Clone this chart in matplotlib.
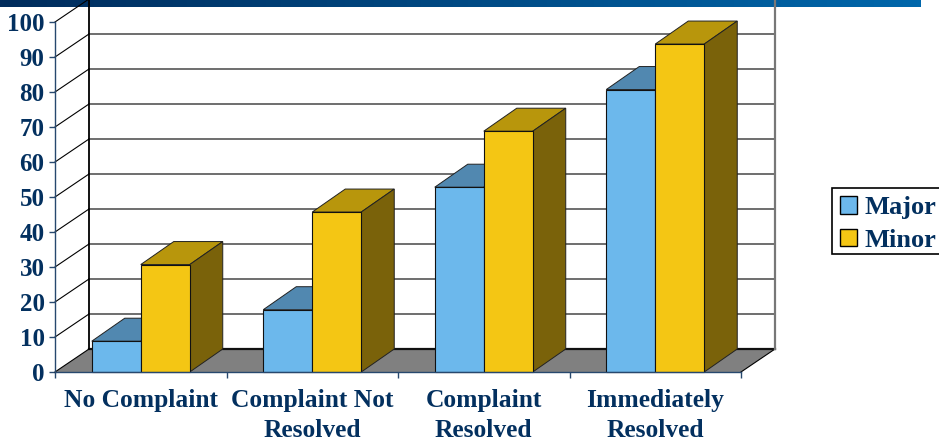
import numpy as np
import matplotlib
matplotlib.use("Agg")
import matplotlib.pyplot as plt
from matplotlib.patches import Patch, Rectangle

categories = ["No Complaint", "Complaint Not\nResolved", "Complaint\nResolved", "Immediately\nResolved"]
major = [8.8, 17.8, 52.8, 80.7]
minor = [30.7, 45.7, 68.8, 93.7]
yticks = [0, 10, 20, 30, 40, 50, 60, 70, 80, 90, 100]

navy = "#03305f"
plt.rcParams['font.family'] = ['Liberation Serif', 'DejaVu Serif']
plt.rcParams['font.weight'] = 'bold'

fig = plt.figure(figsize=(9.39, 4.42), dpi=100)

# banner across the top
banner = fig.add_axes([0, 1 - 7 / 442, 921 / 939, 7 / 442])
banner.imshow(np.linspace(0, 1, 256).reshape(1, -1), aspect='auto',
              cmap=matplotlib.colors.LinearSegmentedColormap.from_list("b", ["#012c5c", "#0067ab"]))
banner.axis('off')

ax = fig.add_axes([55 / 939, 70 / 442, 686 / 939, 350 / 442])
ax.patch.set_alpha(0)
ax.set_xlim(0, 4)
ax.set_ylim(0, 100)

# depth of the fake 3d box, in data units
dx = 34 / 171.5
dy = 23 / 3.5
bdx = 33 / 171.5
bw = 2 / 7
off = 1.5 / 7

# floor
ax.fill([0, dx, 4 + dx, 4], [0, dy, dy, 0], color="#808080", clip_on=False, zorder=1, lw=0)
ax.plot([0, dx], [0, dy], color="black", lw=0.8, clip_on=False, zorder=2)
ax.plot([4, 4 + dx], [0, dy], color="black", lw=0.8, clip_on=False, zorder=2)
ax.plot([dx, 4 + dx], [dy, dy], color="#111111", lw=1.6, clip_on=False, zorder=2)

# walls
for v in yticks[1:]:
    ax.plot([dx, 4 + dx], [v + dy, v + dy], color="#6e6e6e", lw=1.4, clip_on=False, zorder=1.5)
    ax.plot([0, dx], [v, v + dy], color="black", lw=0.8, clip_on=False, zorder=1.5)
ax.plot([dx, dx], [dy, 100 + dy], color="black", lw=1.3, clip_on=False, zorder=2)
ax.plot([4 + dx, 4 + dx], [dy, 100 + dy], color="#777777", lw=1.6, clip_on=False, zorder=2)


def bar3d(x, h, front, top, side, z):
    ax.fill([x, x + bdx, x + bw + bdx, x + bw], [h, h + dy, h + dy, h], facecolor=top,
            edgecolor="#222222", lw=0.7, clip_on=False, zorder=z)
    ax.fill([x + bw, x + bw + bdx, x + bw + bdx, x + bw], [0, dy, h + dy, h], facecolor=side,
            edgecolor="#222222", lw=0.7, clip_on=False, zorder=z)
    ax.bar(x, h, bw, align='edge', color=front, edgecolor="#111111", lw=0.8, clip_on=False, zorder=z + 0.1)


for i in range(len(categories)):
    bar3d(i + off, major[i], "#6cb8ec", "#5188b0", "#3f6a8a", 3 + i)
    bar3d(i + off + bw, minor[i], "#f4c614", "#b8960c", "#7a620a", 3.5 + i)

# axes and labels
for s in ['top', 'right']:
    ax.spines[s].set_visible(False)
for s in ['left', 'bottom']:
    ax.spines[s].set_color("#27486e")
    ax.spines[s].set_linewidth(1)
    ax.spines[s].set_zorder(20)
ax.set_yticks(yticks)
ax.set_yticklabels([str(v) for v in yticks], fontsize=18, color=navy)
ax.tick_params(axis='y', length=4.5, width=1, color="#27486e", pad=3)
ax.set_xticks(range(5))
ax.set_xticklabels([])
ax.tick_params(axis='x', which='major', length=4.5, width=1, color="#27486e")
ax.set_xticks([i + 0.5 for i in range(4)], minor=True)
ax.set_xticklabels(categories, minor=True, fontsize=18.4, color=navy, linespacing=1.42)
ax.tick_params(axis='x', which='minor', length=0, pad=12)

# legend box runs off the right side of the picture
fig.add_artist(Rectangle((831.5 / 939, 1 - 254 / 442), 120 / 939, 66 / 442, transform=fig.transFigure,
                         facecolor="white", edgecolor="black", lw=1.2, zorder=-1))
handles = [Patch(facecolor="#6cb8ec", edgecolor="black", label="Major"),
           Patch(facecolor="#f4c614", edgecolor="black", label="Minor")]
leg = ax.legend(handles=handles, loc='center left', bbox_to_anchor=(840 / 939, 1 - 224 / 442),
                bbox_transform=fig.transFigure, frameon=False,
                prop={'size': 19, 'weight': 'bold'}, labelcolor=navy, handlelength=0.64,
                handleheight=0.62, handletextpad=0.3, borderpad=0, labelspacing=0.36,
                borderaxespad=0)
leg.set_zorder(30)

fig.savefig("out.png", dpi=100)
